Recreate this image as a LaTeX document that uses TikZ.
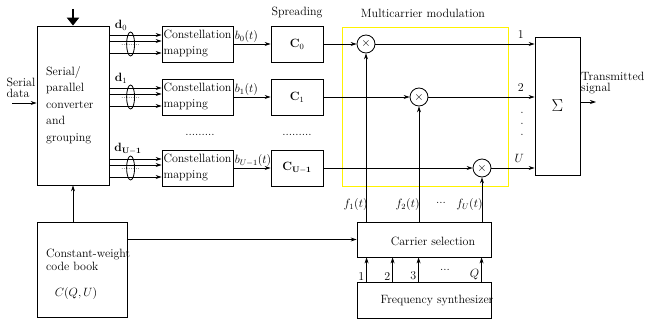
\documentclass[tikz,border=0pt]{standalone}
\usepackage{amsmath}
\usepackage{amssymb}
\usepackage{tikz}
\usetikzlibrary{arrows.meta}

\begin{document}
\begin{tikzpicture}[x=1pt,y=-1pt,font=\fontsize{12}{13}\selectfont,
		blk/.style={draw,line width=0.8pt,inner sep=0pt},
		arr/.style={line width=0.8pt,-{Stealth[length=6pt,width=4pt]}},
		ln/.style={line width=0.8pt},
		mult/.style={draw,circle,line width=0.8pt,minimum size=18pt,inner sep=0pt},
		cmap/.style={blk,minimum width=71pt,minimum height=36pt,align=left,font=\fontsize{12}{16}\selectfont},
		spr/.style={blk,minimum width=52pt,minimum height=36pt}]
				\useasboundingbox (0,0) rectangle (645,321);
				% serial/parallel converter
				\node[blk,minimum width=72pt,minimum height=159pt] (sp) at (73,105.5) {};
				\node[anchor=north west,align=left,inner sep=0pt,font=\fontsize{12}{16.5}\selectfont] (sptxt) at (46,66) {Serial/\\parallel\\converter\\and\\grouping};
				\coordinate (topin) at (73,9);
				\draw[line width=2.4pt,-{Triangle[length=8pt,width=12pt]}] (topin) -- (sp.north);
				\node[align=left,inner sep=0pt,font=\fontsize{12}{11}\selectfont] (sdtxt) at (21,88) {Serial\\data};
				\coordinate (sdin) at (12,103);
				\draw[arr] (sdin) -- (sdin -| sp.west);
				% constellation mapping
				\node[cmap] (cm0) at (197.5,44) {Constellation\\mapping};
				\node[cmap] (cm1) at (197.5,97) {Constellation\\mapping};
				\node[cmap] (cm2) at (197.5,168) {Constellation\\mapping};
				\node (dots1) at (200,135) {.........};
				% bit groups
				\coordinate (g0a) at ([yshift=9pt]cm0.west);
				\coordinate (g0b) at ([yshift=3pt]cm0.west);
				\coordinate (g0c) at ([yshift=-9pt]cm0.west);
				\draw[arr] (sp.east |- g0a) -- (g0a);
				\draw[arr] (sp.east |- g0b) -- (g0b);
				\draw[arr] (sp.east |- g0c) -- (g0c);
				\draw[ln] ([xshift=-31pt]cm0.west) ellipse [x radius=4pt,y radius=12pt];
				\node[font=\footnotesize] (gd0) at ([xshift=-31pt,yshift=-1pt]cm0.west) {........};
				\node (d0) at (121,25) {$\mathbf{d}_0$};
				\coordinate (g1a) at ([yshift=9pt]cm1.west);
				\coordinate (g1b) at ([yshift=3pt]cm1.west);
				\coordinate (g1c) at ([yshift=-9pt]cm1.west);
				\draw[arr] (sp.east |- g1a) -- (g1a);
				\draw[arr] (sp.east |- g1b) -- (g1b);
				\draw[arr] (sp.east |- g1c) -- (g1c);
				\draw[ln] ([xshift=-31pt]cm1.west) ellipse [x radius=4pt,y radius=12pt];
				\node[font=\footnotesize] (gd1) at ([xshift=-31pt,yshift=-1pt]cm1.west) {........};
				\node (d1) at (121,78) {$\mathbf{d}_1$};
				\coordinate (g2a) at ([yshift=9pt]cm2.west);
				\coordinate (g2b) at ([yshift=3pt]cm2.west);
				\coordinate (g2c) at ([yshift=-9pt]cm2.west);
				\draw[arr] (sp.east |- g2a) -- (g2a);
				\draw[arr] (sp.east |- g2b) -- (g2b);
				\draw[arr] (sp.east |- g2c) -- (g2c);
				\draw[ln] ([xshift=-31pt]cm2.west) ellipse [x radius=4pt,y radius=12pt];
				\node[font=\footnotesize] (gd2) at ([xshift=-31pt,yshift=-1pt]cm2.west) {........};
				\node (d2) at (128,149) {$\mathbf{d}_{\mathbf{U-1}}$};
				% spreading
				\node (sprlbl) at (297,13) {Spreading};
				\node[spr] (sc0) at (297,44) {$\mathbf{C}_0$};
				\node[spr] (sc1) at (297,97) {$\mathbf{C}_1$};
				\node[spr] (sc2) at (297,168) {$\mathbf{C}_{\mathbf{U-1}}$};
				\node (dots2) at (297,135) {.........};
				\draw[arr] (cm0.east) -- node[pos=0,anchor=south west,inner sep=1pt] {$b_0(t)$} (sc0.west);
				\draw[arr] (cm1.east) -- node[pos=0,anchor=south west,inner sep=1pt] {$b_1(t)$} (sc1.west);
				\draw[arr] (cm2.east) -- node[pos=0,anchor=south west,inner sep=1pt] {$b_{U-1}(t)$} (sc2.west);
				% multicarrier modulation
				\node[draw=yellow,line width=0.8pt,minimum width=166pt,minimum height=159pt] (mcm) at (425,106.5) {};
				\node (mcmlbl) at (423,13) {Multicarrier modulation};
				\node[mult] (m0) at (366,44) {$\times$};
				\node[mult] (m1) at (419,97) {$\times$};
				\node[mult] (m2) at (482,168) {$\times$};
				\draw[arr] (sc0.east) -- (m0.west);
				\draw[arr] (sc1.east) -- (m1.west);
				\draw[arr] (sc2.east) -- (m2.west);
				% summation
				\node[blk,minimum width=45pt,minimum height=138pt,font=\fontsize{16}{18}\selectfont] (sum) at (557.5,106) {$\Sigma$};
				\draw[arr] (m0.east) -- (m0.east -| sum.west) node[pos=1,above left,xshift=-7pt,yshift=2pt] {1};
				\draw[arr] (m1.east) -- (m1.east -| sum.west) node[pos=1,above left,xshift=-7pt,yshift=2pt] {2};
				\draw[arr] (m2.east) -- (m2.east -| sum.west) node[pos=1,above left,xshift=-7pt,yshift=2pt] {$U$};
				\node[rotate=90] (vd) at (522,124) {.\ \ .\ \ .};
				\coordinate (txout) at (596,102);
				\draw[arr] (sum.east |- txout) -- (txout);
				\node[anchor=west,align=left,inner sep=0pt,font=\fontsize{12}{11}\selectfont] (txlbl) at (581,83) {Transmitted\\signal};
				% carrier selection and synthesizer
				\node[blk,minimum width=134pt,minimum height=35pt] (cs) at (424,239.5) {};
				\node (cstxt) at (433,241) {Carrier selection};
				\node[blk,minimum width=134pt,minimum height=36pt] (fs) at (424,300) {};
				\node (fstxt) at (437,301) {Frequency synthesizer};
				\draw[arr] (m0 |- cs.north) -- node[pos=0,anchor=east,yshift=17pt,xshift=2pt,inner sep=0pt] {$f_1(t)$} (m0.south);
				\draw[arr] (m1 |- cs.north) -- node[pos=0,anchor=east,yshift=17pt,xshift=1pt,inner sep=0pt] {$f_2(t)$} (m1.south);
				\draw[arr] (m2 |- cs.north) -- node[pos=0,anchor=east,yshift=17pt,xshift=1pt,inner sep=0pt] {$f_U(t)$} (m2.south);
				\node (fdots) at (441,203) {...};
				\draw[arr] ([xshift=10pt]fs.north west) -- node[pos=0,anchor=south east,inner sep=1pt,xshift=-1pt] {1} ([xshift=10pt]cs.south west);
				\draw[arr] ([xshift=36pt]fs.north west) -- node[pos=0,anchor=south east,inner sep=1pt,xshift=-1pt] {2} ([xshift=36pt]cs.south west);
				\draw[arr] ([xshift=62pt]fs.north west) -- node[pos=0,anchor=south east,inner sep=1pt,xshift=-1pt] {3} ([xshift=62pt]cs.south west);
				\draw[arr] ([xshift=125pt]fs.north west) -- node[pos=0,anchor=south east,inner sep=1pt,xshift=-1pt] {$Q$} ([xshift=125pt]cs.south west);
				\node (qdots) at (445,270) {...};
				% constant-weight code book
				\node[blk,minimum width=90pt,minimum height=95pt] (cb) at (82,269.5) {};
				\node[anchor=west,align=left,inner sep=0pt,font=\fontsize{12}{13.5}\selectfont] (cbtxt) at (46,260) {Constant-weight\\code book};
				\node (cbq) at (76,293) {$C(Q,U)$};
				\draw[arr] (cb.north -| sp.south) -- (sp.south);
				\draw[arr] (cb.east |- cs.west) -- (cs.west);
			\end{tikzpicture}
\end{document}
